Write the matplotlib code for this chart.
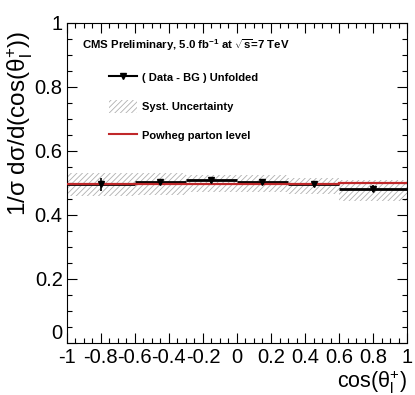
import numpy as np
import matplotlib
matplotlib.use("Agg")
import matplotlib.pyplot as plt
from matplotlib.lines import Line2D
from matplotlib.patches import Patch

plt.rcParams['font.family'] = ['Liberation Sans', 'DejaVu Sans']
plt.rcParams['mathtext.fontset'] = 'custom'
plt.rcParams['mathtext.rm'] = 'Liberation Sans'
plt.rcParams['mathtext.it'] = 'Liberation Sans:italic'
plt.rcParams['mathtext.bf'] = 'Liberation Sans:bold'
plt.rcParams['hatch.linewidth'] = 0.6

# bins in cos(theta_l+)
edges = np.array([-1.0, -0.6, -0.3, 0.0, 0.3, 0.6, 1.0])
centers = np.array([-0.8, -0.45, -0.15, 0.15, 0.45, 0.8])

# (Data - BG) unfolded
data = np.array([0.496, 0.502, 0.508, 0.504, 0.495, 0.482])
data_err = np.array([0.020, 0.010, 0.008, 0.008, 0.008, 0.012])

# systematic band
syst_lo = np.array([0.460, 0.462, 0.472, 0.470, 0.465, 0.444])
syst_hi = np.array([0.532, 0.530, 0.524, 0.524, 0.515, 0.510])

# Powheg parton level
powheg = np.array([0.495, 0.497, 0.498, 0.498, 0.496, 0.499])

fig = plt.figure(figsize=(4.15, 3.95), dpi=100)
ax = fig.add_axes([0.161, 0.132, 0.82, 0.81])

ax.bar(centers, syst_hi - syst_lo, bottom=syst_lo, width=np.diff(edges),
       fill=False, hatch='//////', edgecolor='#b0b0b0', linewidth=0, zorder=1)

ax.stairs(powheg, edges, baseline=None, color='#c0282a', linewidth=1.6, zorder=3)

ax.hlines(data, edges[:-1], edges[1:], color='black', linewidth=2.0, zorder=2)
ax.errorbar(centers, data, yerr=data_err, fmt='v', color='black',
            markersize=5, elinewidth=1.2, capsize=0, zorder=4)

ax.set_xlim(-1, 1)
ax.set_ylim(0, 1)
ax.set_xticks(np.arange(-1, 1.01, 0.2))
ax.set_xticklabels(['-1', '-0.8', '-0.6', '-0.4', '-0.2', '0', '0.2', '0.4', '0.6', '0.8', '1'])
ax.set_yticks(np.arange(0, 1.01, 0.2))
ax.set_yticklabels(['0', '0.2', '0.4', '0.6', '0.8', '1'])
ax.set_xticks(np.arange(-1, 1.01, 0.05), minor=True)
ax.set_yticks(np.arange(0, 1.01, 0.05), minor=True)
ax.tick_params(which='both', direction='in', top=True, right=True, labelsize=14.5)
ax.tick_params(which='major', length=7, width=0.8)
ax.tick_params(which='minor', length=3.5, width=0.8)
ax.tick_params(axis='x', pad=4)
ax.tick_params(axis='y', pad=3)
ax.get_yticklabels()[0].set_va('bottom')

ax.set_xlabel(r'cos($\mathregular{\theta_{l}^{+}}$)', fontsize=15.5, loc='right', labelpad=1)
ax.set_ylabel(r'1/σ dσ/d(cos($\mathregular{\theta_{l}^{+}}$))', fontsize=17.5,
              y=0.975, ha='right', labelpad=0)

ax.text(0.045, 0.93, r'CMS Preliminary, 5.0 fb$^{\mathbf{-1}}$ at $\mathbf{\sqrt{s}}$=7 TeV',
        transform=ax.transAxes, fontsize=8.2, fontweight='bold', va='center', ha='left')

handles = [
    Line2D([], [], color='black', linewidth=1.5, marker='v', markersize=4),
    Patch(facecolor='none', edgecolor='#b0b0b0', hatch='//////', linewidth=0),
    Line2D([], [], color='#c0282a', linewidth=1.5),
]
labels = ['( Data - BG ) Unfolded', 'Syst. Uncertainty', 'Powheg parton level']
leg = ax.legend(handles, labels, loc='upper left', bbox_to_anchor=(0.095, 0.88),
                frameon=False, prop={'weight': 'bold', 'size': 8},
                handlelength=2.5, handleheight=1.4, handletextpad=0.5, labelspacing=1.45)

fig.savefig('out.png', dpi=100)
